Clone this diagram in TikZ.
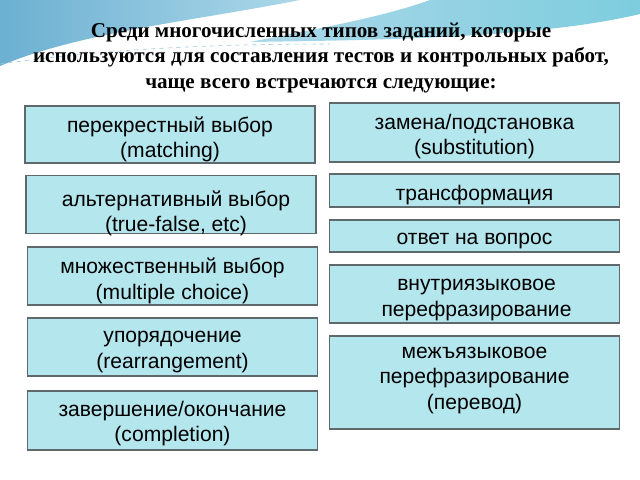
\documentclass[tikz,border=0pt]{standalone}
\usepackage{fontspec}
\setmainfont{Liberation Serif}
\newfontfamily\boxfont{Liberation Sans}
\usetikzlibrary{calc}
\definecolor{boxcyan}{RGB}{180,230,238}
\definecolor{boxedge}{RGB}{95,105,108}
\definecolor{swooshblue}{RGB}{108,176,210}
\definecolor{swooshpale}{RGB}{172,216,233}
\definecolor{swooshcyan}{RGB}{125,205,222}
\tikzset{
	typebox/.style={draw=boxedge, fill=boxcyan, line width=0.8pt, inner sep=0pt, minimum width=7.25cm},
	boxtext/.style={align=center, inner sep=0pt, font=\boxfont\fontsize{15}{18}\selectfont},
	titletext/.style={align=center, font=\bfseries\fontsize{15}{17.8}\selectfont}
}

\begin{document}
\begin{tikzpicture}[x=0.025cm, y=-0.025cm]
		%%%%% START %%%%%
		
		\useasboundingbox (0, 0) rectangle (640, 480);
		\fill[white] (0, 0) rectangle (640, 480);
		
		% swoosh at the top
		\shade[left color=swooshblue, right color=swooshpale] (0, 0) -- (300, 0)
			.. controls (200, 20) and (80, 32) .. (0, 66) -- cycle;
		\shade[left color=swooshpale, right color=swooshcyan] (250, 42)
			.. controls (380, 40) and (540, 38) .. (640, 14) -- (640, 0) -- (430, 0)
			.. controls (380, 18) and (310, 30) .. (250, 42) -- cycle;
		\draw[white, line width=3pt, opacity=0.8] (70, 54) .. controls (160, 30) and (260, 12) .. (420, 0);
		\draw[swooshblue!70, dashed, line width=0.4pt] (0, 64) .. controls (100, 50) and (200, 44) .. (330, 44);
		
		% title
		\node[titletext] (title) at (321, 58) {Среди многочисленных типов заданий, которые\\
			используются для составления тестов и контрольных работ,\\
			чаще всего встречаются следующие:};
		
		% left column
		\node[typebox, minimum height=1.425cm] (cross) at (170, 134.5) {};
		\node[boxtext] (crosstext) at ($(cross)+(0, 5)$) {перекрестный выбор\\(matching)};
		\node[typebox, minimum height=1.45cm] (truefalse) at (171, 204.5) {};
		\node[boxtext] (truefalsetext) at ($(truefalse)+(5, 9)$) {альтернативный выбор\\(true-false, etc)};
		\node[typebox, minimum height=1.45cm] (multiple) at (172.5, 276) {};
		\node[boxtext] (multipletext) at ($(multiple)+(0, 5)$) {множественный выбор\\(multiple choice)};
		\node[typebox, minimum height=1.45cm] (order) at (172.5, 347) {};
		\node[boxtext] (ordertext) at ($(order)+(0, 5)$) {упорядочение\\(rearrangement)};
		\node[typebox, minimum height=1.475cm] (complete) at (172.5, 420.5) {};
		\node[boxtext] (completetext) at ($(complete)+(0, 3)$) {завершение/окончание\\(completion)};
		
		% right column
		\node[typebox, minimum height=1.475cm] (subst) at (474.5, 132.5) {};
		\node[boxtext] (substtext) at ($(subst)+(0, 4)$) {замена/подстановка\\(substitution)};
		\node[typebox, minimum height=0.825cm] (transform) at (474.5, 190.5) {};
		\node[boxtext] (transformtext) at ($(transform)+(0, 5)$) {трансформация};
		\node[typebox, minimum height=0.8cm] (answer) at (474.5, 236) {};
		\node[boxtext] (answertext) at ($(answer)+(0, 5)$) {ответ на вопрос};
		\node[typebox, minimum height=1.45cm] (intra) at (474.5, 294) {};
		\node[boxtext] (intratext) at ($(intra)+(2, 6)$) {внутриязыковое\\перефразирование};
		\node[typebox, minimum height=2.325cm] (inter) at (474.5, 382.5) {};
		\node[boxtext] (intertext) at ($(inter)+(0, -2)$) {межъязыковое\\перефразирование\\(перевод)};
		
		%%%%% END %%%%%
	\end{tikzpicture}
\end{document}
